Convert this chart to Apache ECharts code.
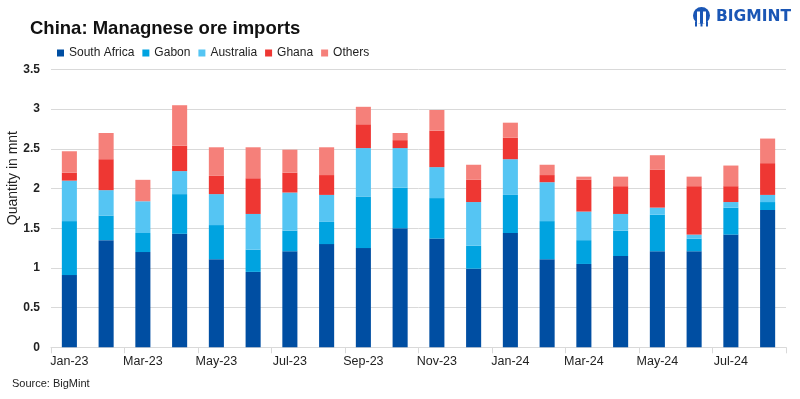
<!DOCTYPE html>
<html>
<head>
<meta charset="utf-8">
<title>China: Managnese ore imports</title>
<script src="https://cdn.jsdelivr.net/npm/echarts@6/dist/echarts.min.js"></script>
<style>
  html, body { margin: 0; padding: 0; background: #fff; }
  #chart { width: 800px; height: 399px; }
</style>
</head>
<body>
<div id="chart"></div>
<script>
// months
var months = ['Jan-23', 'Feb-23', 'Mar-23', 'Apr-23', 'May-23', 'Jun-23', 'Jul-23', 'Aug-23', 'Sep-23', 'Oct-23',
              'Nov-23', 'Dec-23', 'Jan-24', 'Feb-24', 'Mar-24', 'Apr-24', 'May-24', 'Jun-24', 'Jul-24', 'Aug-24'];

// quantity in mnt
var southAfrica = [0.91, 1.35, 1.20, 1.43, 1.11, 0.95, 1.21, 1.30, 1.25, 1.50, 1.37, 0.99, 1.44, 1.11, 1.05, 1.15, 1.21, 1.21, 1.42, 1.73];
var gabon       = [0.68, 0.31, 0.24, 0.50, 0.43, 0.28, 0.26, 0.28, 0.65, 0.51, 0.51, 0.29, 0.48, 0.48, 0.30, 0.32, 0.46, 0.16, 0.34, 0.10];
var australia   = [0.51, 0.32, 0.40, 0.29, 0.39, 0.45, 0.48, 0.34, 0.61, 0.50, 0.39, 0.55, 0.45, 0.49, 0.36, 0.21, 0.09, 0.05, 0.07, 0.09];
var ghana       = [0.10, 0.39, 0.00, 0.32, 0.23, 0.45, 0.25, 0.25, 0.30, 0.10, 0.46, 0.28, 0.27, 0.09, 0.40, 0.35, 0.48, 0.61, 0.20, 0.40];
var others      = [0.27, 0.33, 0.27, 0.51, 0.36, 0.39, 0.29, 0.35, 0.22, 0.09, 0.26, 0.19, 0.19, 0.13, 0.04, 0.12, 0.18, 0.12, 0.26, 0.31];

var seriesNames = ['South Africa', 'Gabon', 'Australia', 'Ghana', 'Others'];
var seriesData = [southAfrica, gabon, australia, ghana, others];
var colors = ['#004ea2', '#00a3e0', '#55c5f3', '#ee3733', '#f5807a'];

var yMin = 0, yMax = 3.5, yStep = 0.5;

var chart = echarts.init(document.getElementById('chart'));

var series = seriesNames.map(function (name, i) {
    return {
        name: name,
        type: 'bar',
        stack: 'total',
        barWidth: '41%',
        itemStyle: { color: colors[i] },
        data: seriesData[i]
    };
});

chart.setOption({
    animation: false,
    color: colors,
    title: {
        text: 'China: Managnese ore imports',
        left: 25,
        top: 14,
        textStyle: { fontFamily: 'Liberation Sans', fontWeight: 'bold', fontSize: 18.5, color: '#111' }
    },
    legend: {
        data: seriesNames,
        left: 52,
        top: 42,
        itemWidth: 7,
        itemHeight: 7,
        itemGap: 8,
        icon: 'rect',
        textStyle: { fontFamily: 'Liberation Sans', fontSize: 12, color: '#222' }
    },
    grid: { left: 51, right: 14, top: 69.5, bottom: 51.7 },
    xAxis: {
        type: 'category',
        data: months,
        axisLine: { lineStyle: { color: '#d9d9d9', width: 1 } },
        axisTick: { show: true, interval: 1, length: 6, lineStyle: { color: '#d9d9d9' } },
        axisLabel: { interval: 1, margin: 8, fontFamily: 'Liberation Sans', fontSize: 12.5, color: '#222' }
    },
    yAxis: {
        type: 'value',
        min: yMin,
        max: yMax,
        interval: yStep,
        axisLine: { show: false },
        axisTick: { show: false },
        splitLine: { lineStyle: { color: '#d9d9d9', width: 1 } },
        axisLabel: { margin: 11, fontFamily: 'Liberation Sans', fontWeight: 'bold', fontSize: 12, color: '#222' }
    },
    graphic: [
        {
            type: 'text', left: 6, top: 131, rotation: Math.PI / 2,
            style: { text: 'Quantity in mnt', font: '14px "Liberation Sans"', fill: '#222' }
        },
        {
            type: 'text', left: 12, top: 378,
            style: { text: 'Source: BigMint', font: '11px "Liberation Sans"', fill: '#222' }
        },
        {
            type: 'group', left: 693, top: 7,
            children: [
                { type: 'circle', shape: { cx: 9.5, cy: 8, r: 8.5 }, style: { fill: '#1a56b5' } },
                { type: 'rect', shape: { x: 5, y: 4, width: 3, height: 12 }, style: { fill: '#fff' } },
                { type: 'rect', shape: { x: 11, y: 4, width: 3, height: 12 }, style: { fill: '#fff' } },
                { type: 'rect', shape: { x: 3, y: 14, width: 2, height: 5 }, style: { fill: '#1a56b5' } },
                { type: 'rect', shape: { x: 14, y: 14, width: 2, height: 5 }, style: { fill: '#1a56b5' } },
                { type: 'rect', shape: { x: 8.5, y: 16, width: 2, height: 3 }, style: { fill: '#1a56b5' } }
            ]
        },
        {
            type: 'text', left: 716, top: 9,
            style: { text: 'BIGMINT', font: 'bold 15.5px "DejaVu Sans"', fill: '#1a56b5' }
        }
    ],
    series: series
});
</script>
</body>
</html>
